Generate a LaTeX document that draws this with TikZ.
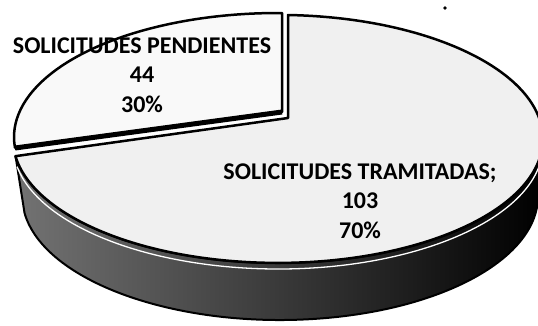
\documentclass[tikz,border=0pt]{standalone}
\usepackage{fontspec}
\setmainfont{Carlito}
\usepackage{tikz}
\usetikzlibrary{positioning}

\begin{document}
\begin{tikzpicture}[x=1pt,y=-1pt,
						face/.style={draw,line width=2.5pt,line join=round},
						side/.style={draw,line width=2pt,left color=black!55,middle color=black,right color=black},
						rim/.style={white,line width=1.3pt},
						lbl/.style={align=center,font=\fontsize{24pt}{29.5pt}\selectfont\bfseries}]

						\useasboundingbox (0,0) rectangle (538,325);

						%%% Centres of the two slices
						\coordinate (mainC) at (278,139);
						\coordinate (mainApex) at (288,118);
						\coordinate (pendC) at (278,137);
						\coordinate (pendApex) at (282,112);
						\coordinate (pendL) at (15,148);

						%%% Side of the big slice
						\path [side] (mainC) ++(0:265 and 124)
							arc[start angle=0,end angle=172,x radius=265,y radius=124]
							-- ++(9,57)
							arc[start angle=172,end angle=0,x radius=258,y radius=124]
							-- cycle;
						\draw [rim] (mainC) ++(0,6) ++(4:265 and 124)
							arc[start angle=4,end angle=170,x radius=265,y radius=124];

						%%% Top of the big slice
						\filldraw [face,fill=gray!12] (mainApex) -- (288,15)
							arc[start angle=-87.8,end angle=172,x radius=265,y radius=124]
							-- cycle;

						%%% Pulled out slice
						\filldraw [face,fill=gray!5] (pendC) ++(-89.1:264 and 124)
							arc[start angle=-89.1,end angle=-185,x radius=264,y radius=124]
							-- (pendApex) -- cycle;
						\draw [line width=5pt] (pendL) -- (pendApex);

						%% Labels
						\node [lbl] (pendLbl) at (142,75) {SOLICITUDES PENDIENTES\\44\\30\%};
						\node [lbl] (tramLbl) at (360,201) {SOLICITUDES TRAMITADAS;\\103\\70\%};

						\fill (445,8) circle (1.8);
					\end{tikzpicture}
\end{document}
